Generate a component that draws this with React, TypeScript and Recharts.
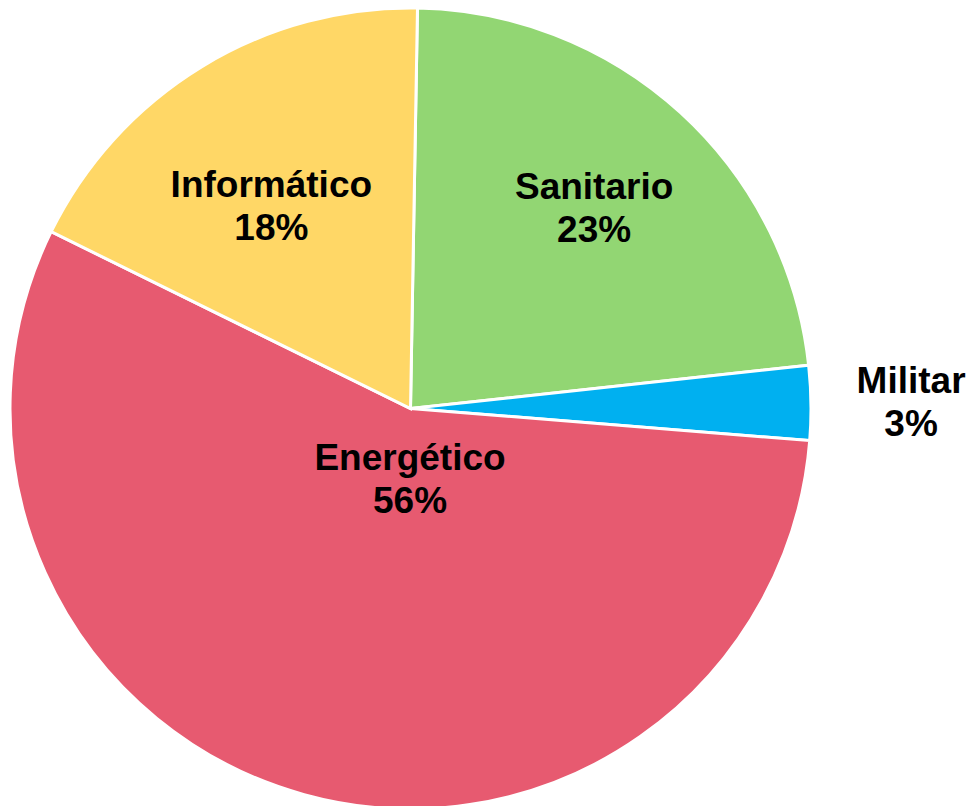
import { PieChart, Pie, Cell } from 'recharts';

const categories = ['Sanitario', 'Militar', 'Energético', 'Informático'];
const values = [23, 3, 56, 18];
const colors = ['#92D673', '#00B0F0', '#E75A70', '#FFD766'];

// where Excel put each label: radius as a share of the pie radius, plus a small angle nudge
const labelPlacement: Record<string, { r: number; da: number }> = {
    Sanitario: { r: 0.68, da: 0 },
    Militar: { r: 1.25, da: 0 },
    Energético: { r: 0.175, da: 15 },
    Informático: { r: 0.615, da: 3 },
};

const data = categories.map((name, i) => ({ name, value: values[i] }));
const total = values.reduce((a, b) => a + b, 0);

const RADIAN = Math.PI / 180;

const renderLabel = (props: any) => {
    const { cx, cy, midAngle, outerRadius, name, value } = props;
    const p = labelPlacement[name] ?? { r: 0.65, da: 0 };
    const angle = (midAngle + p.da) * RADIAN;
    const x = cx + outerRadius * p.r * Math.cos(angle);
    const y = cy - outerRadius * p.r * Math.sin(angle);
    const pct = Math.round((value / total) * 100);
    return (
        <text
            x={x}
            y={y}
            textAnchor="middle"
            fill="#000"
            fontFamily="'Liberation Sans', Arial, sans-serif"
            fontWeight="bold"
            fontSize={37}
        >
            <tspan x={x} y={y - 21} dominantBaseline="central">{name}</tspan>
            <tspan x={x} y={y + 22} dominantBaseline="central">{pct}%</tspan>
        </text>
    );
};

export default function App() {
    return (
        <div style={{ position: 'absolute', top: 0, left: 0, width: 971, height: 806, background: '#fff' }}>
            <PieChart width={971} height={806} margin={{ top: 0, right: 0, bottom: 0, left: 0 }}>
                <Pie
                    data={data}
                    dataKey="value"
                    nameKey="name"
                    cx={410.5}
                    cy={408.5}
                    outerRadius={400.5}
                    startAngle={89}
                    endAngle={-271}
                    stroke="#fff"
                    strokeWidth={3}
                    label={renderLabel}
                    labelLine={false}
                    isAnimationActive={false}
                >
                    {data.map((d, i) => (
                        <Cell key={d.name} fill={colors[i]} />
                    ))}
                </Pie>
            </PieChart>
        </div>
    );
}
